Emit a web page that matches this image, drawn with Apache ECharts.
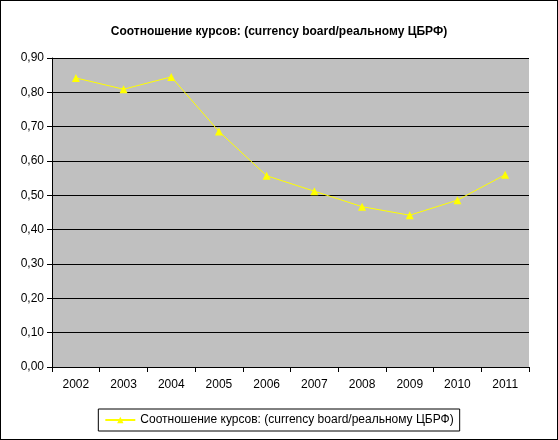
<!DOCTYPE html>
<html><head><meta charset="utf-8">
<script src="https://cdn.jsdelivr.net/npm/echarts@6/dist/echarts.min.js"></script>
<style>html,body{margin:0;padding:0;background:#fff}#c{width:556px;height:438px;border:1px solid #000}</style>
</head><body><div id="c"></div>
<script>
const categories=['2002','2003','2004','2005','2006','2007','2008','2009','2010','2011'];
const values=[0.842,0.809,0.845,0.686,0.557,0.512,0.467,0.442,0.486,0.560];
const seriesName='Соотношение курсов: (currency board/реальному ЦБРФ)';
const ch=echarts.init(document.getElementById('c'));
const F='Liberation Sans, Arial, sans-serif';
ch.setOption({
  animation:false,
  title:{text:'Соотношение курсов: (currency board/реальному ЦБРФ)',left:'center',top:20,textStyle:{fontFamily:F,fontSize:12,fontWeight:'bold',color:'#000'}},
  grid:{left:51,right:28,top:57,bottom:72,backgroundColor:'#c0c0c0',show:true,borderWidth:0},
  legend:{bottom:8,left:'center',itemWidth:30,itemHeight:8,itemGap:4,padding:[5,6],borderColor:'#000',borderWidth:1,borderRadius:0,textStyle:{fontFamily:F,fontSize:12,color:'#000'},data:[seriesName]},
  xAxis:{type:'category',data:categories,boundaryGap:true,axisLine:{lineStyle:{color:'#000'}},axisTick:{show:true,length:5,lineStyle:{color:'#000'}},axisLabel:{fontFamily:F,fontSize:12,color:'#000',margin:12}},
  yAxis:{type:'value',min:0,max:0.9,interval:0.1,axisLine:{show:true,lineStyle:{color:'#000'}},axisTick:{show:true,length:5,lineStyle:{color:'#000'}},splitLine:{lineStyle:{color:'#000',width:1}},axisLabel:{fontFamily:F,fontSize:12,color:'#000',formatter:v=>v.toFixed(2).replace('.',',')}},
  series:[{name:seriesName,type:'line',data:values,symbol:'triangle',symbolSize:8,itemStyle:{color:'#ffff00'},lineStyle:{color:'#ffff00',width:1}}]
});
</script></body></html>
